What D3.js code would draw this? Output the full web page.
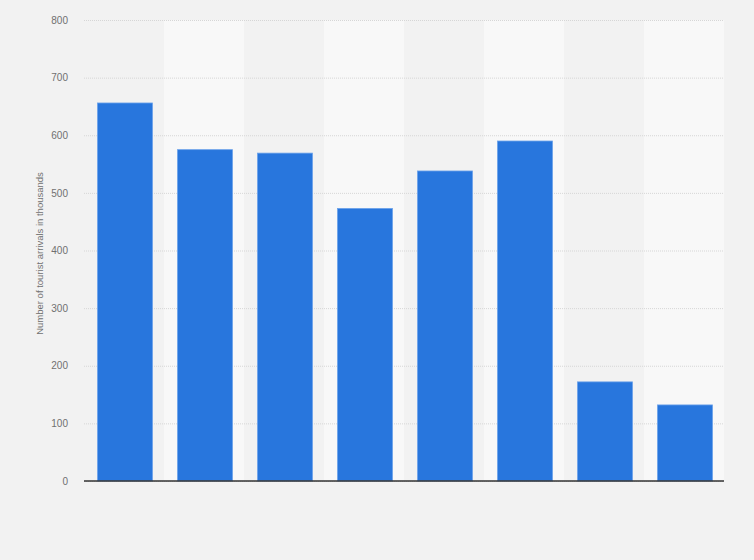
<!DOCTYPE html>
<html>
<head>
<meta charset="utf-8">
<script src="https://cdn.jsdelivr.net/npm/d3@7"></script>
<style>
  body { margin: 0; background: #f2f2f2; }
  svg { display: block; font-family: "Liberation Sans", Arial, sans-serif; }
</style>
</head>
<body>
<svg id="drawing_region"></svg>
<script>
// data (no category labels shown)
const categories = ["1", "2", "3", "4", "5", "6", "7", "8"];
const arrivals = [656, 575, 569, 473, 538, 590, 172, 132];
const yTicks = [0, 100, 200, 300, 400, 500, 600, 700, 800];

const width = 754, height = 560;
const margin = {top: 20, right: 30, bottom: 79, left: 84};

const svg = d3.select('#drawing_region')
    .attr('width', width)
    .attr('height', height);

svg.append('rect')
    .attr('width', width).attr('height', height)
    .attr('fill', '#f2f2f2');

const x = d3.scaleBand()
    .domain(categories)
    .range([margin.left, width - margin.right])
    .paddingInner(0.3125)
    .paddingOuter(0.15625);

const y = d3.scaleLinear()
    .domain([0, 800])
    .range([height - margin.bottom, margin.top]);

// alternating column backgrounds
const step = x.step();
svg.append('g')
    .selectAll('rect')
    .data(categories)
    .join('rect')
    .attr('x', (d, i) => margin.left + i * step)
    .attr('y', y(800))
    .attr('width', step)
    .attr('height', y(0) - y(800))
    .attr('fill', (d, i) => i % 2 ? '#f8f8f8' : '#f2f2f2');

// grid + tick labels
const yAxis = svg.append('g')
    .attr('transform', `translate(${margin.left},0)`)
    .call(d3.axisLeft(y).tickValues(yTicks).tickSize(-(width - margin.left - margin.right)).tickPadding(16));
yAxis.select('.domain').remove();
yAxis.selectAll('.tick line')
    .attr('stroke', '#d6d6d6')
    .attr('stroke-dasharray', '1,1');
yAxis.selectAll('.tick text')
    .attr('fill', '#707070')
    .style('font-size', '10px');

// bars
svg.append('g')
    .attr('transform', 'translate(1,0)')
    .selectAll('rect')
    .data(arrivals)
    .join('rect')
    .attr('x', (d, i) => x(categories[i]))
    .attr('y', d => y(d))
    .attr('width', x.bandwidth())
    .attr('height', d => y(0) - y(d))
    .attr('fill', '#2876dd')
    .attr('stroke', '#6ca2ea')
    .attr('stroke-width', 0.8);

// baseline
svg.append('line')
    .attr('x1', margin.left).attr('x2', width - margin.right)
    .attr('y1', y(0)).attr('y2', y(0))
    .attr('stroke', '#333')
    .attr('stroke-width', 1.3);

// y label
svg.append('text')
    .attr('transform', `translate(43, ${(y(0) + y(800)) / 2 + 3}) rotate(-90)`)
    .attr('text-anchor', 'middle')
    .attr('fill', '#707070')
    .style('font-size', '9.5px')
    .text('Number of tourist arrivals in thousands');
</script>
</body>
</html>
